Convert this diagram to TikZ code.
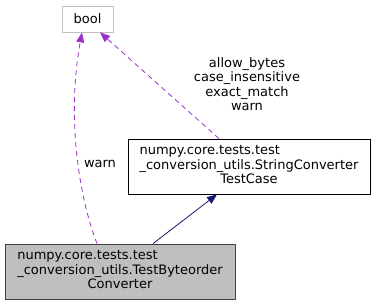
\documentclass[tikz,border=0pt]{standalone}
\usepackage{fontspec}
\setmainfont{DejaVu Sans}
\usetikzlibrary{arrows.meta}
\definecolor{orchid}{HTML}{9A32CD}
\definecolor{navyline}{HTML}{191970}
\definecolor{boxgray}{HTML}{BFBFBF}
\definecolor{edgegray}{HTML}{404040}
\newcommand{\labelfont}{\fontsize{13}{14.5}\selectfont}
\tikzset{
  x=1pt, y=-1pt,
  txt/.style={font=\labelfont, inner sep=0pt},
  classbox/.style={draw=black, line width=0.8pt, minimum height=55pt, font=\labelfont, inner sep=0pt},
  extbox/.style={draw=boxgray, line width=0.8pt, minimum width=51pt, minimum height=26pt, font=\labelfont, inner sep=0pt},
  usage/.style={draw=orchid, dashed, dash pattern=on 5pt off 4pt, line width=0.8pt,
    -{Triangle[length=10pt,width=8pt,fill=orchid]}},
  inherit/.style={draw=navyline, line width=0.8pt,
    -{Triangle[length=10pt,width=8pt,fill=navyline]}},
}
\begin{document}
\begin{tikzpicture}
\useasboundingbox (0,0) rectangle (375,305);

% classes
\node[extbox] (bool) at (87.5,19) {bool};
\node[classbox, minimum width=242pt] (strconv) at (249,166.5)
  {\begin{tabular}{@{}l@{}}numpy.core.tests.test\\\_conversion\_utils.StringConverter\\\multicolumn{1}{@{}c@{}}{TestCase}\end{tabular}};
\node[classbox, fill=boxgray, draw=edgegray, minimum width=230pt] (byteord) at (120,271.5)
  {\begin{tabular}{@{}l@{}}numpy.core.tests.test\\\_conversion\_utils.TestByteorder\\\multicolumn{1}{@{}c@{}}{Converter}\end{tabular}};

% member-usage relations
\draw[usage] ([xshift=-23pt]byteord.north) .. controls (80,200) and (66,120) .. ([xshift=-5.5pt]bool.south);
\node[txt] (lblwarn) at (100,164) {warn};

\draw[usage] ([xshift=-30pt]strconv.north) -- ([xshift=12.5pt]bool.south);
\node[txt, align=center] (lblmembers) at (247,84)
  {allow\_bytes\\case\_insensitive\\exact\_match\\warn};

% inheritance
\draw[inherit] ([xshift=33pt]byteord.north) -- ([xshift=-32pt]strconv.south);
\end{tikzpicture}
\end{document}
